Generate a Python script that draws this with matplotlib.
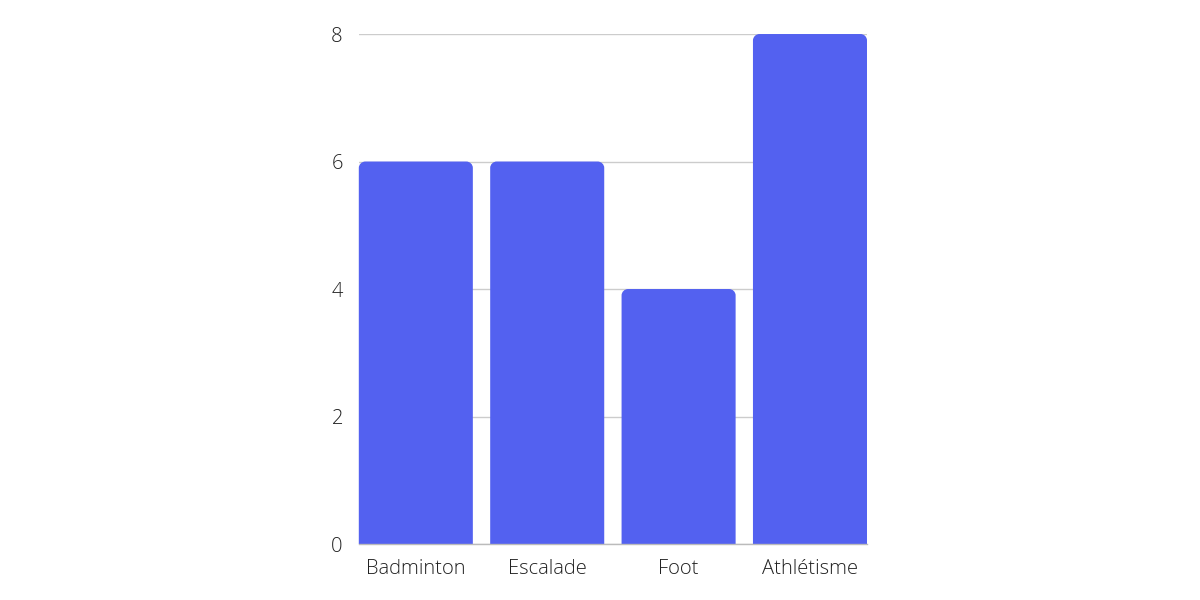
import numpy as np
import matplotlib.pyplot as plt
from matplotlib.path import Path
from matplotlib.patches import PathPatch

# data
sports = ["Badminton", "Escalade", "Foot", "Athlétisme"]
counts = [6, 6, 4, 8]
yticks = [0, 2, 4, 6, 8]

bar_color = "#5361F0"
bar_w = 0.868

plt.rcParams['font.family'] = ['Open Sans', 'DejaVu Sans']


def top_rounded_bar(x0, w, h, rx, ry):
    # bar path with only the two top corners rounded (bezier quarter ellipses)
    k = 0.5523
    x1 = x0 + w
    verts = [(x0, 0), (x1, 0), (x1, h - ry),
             (x1, h - ry + k * ry), (x1 - rx + k * rx, h), (x1 - rx, h),
             (x0 + rx, h),
             (x0 + rx - k * rx, h), (x0, h - ry + k * ry), (x0, h - ry),
             (x0, 0)]
    codes = [Path.MOVETO, Path.LINETO, Path.LINETO,
             Path.CURVE4, Path.CURVE4, Path.CURVE4,
             Path.LINETO,
             Path.CURVE4, Path.CURVE4, Path.CURVE4,
             Path.CLOSEPOLY]
    return Path(verts, codes)


fig = plt.figure(figsize=(12, 6), dpi=100)
ax = fig.add_axes([0.299, 0.0933, 0.4235, 0.85])

x = np.arange(len(sports))
ax.set_xlim(-bar_w / 2, len(sports) - 1 + bar_w / 2)
ax.set_ylim(0, 8)

rx = 0.05   # ~6-7 px
ry = 0.10
for xi, v in zip(x, counts):
    p = PathPatch(top_rounded_bar(xi - bar_w / 2, bar_w, v, rx, ry),
                  fc=bar_color, ec="none", zorder=3, clip_on=False)
    ax.add_patch(p)

ax.set_yticks(yticks)
ax.set_yticklabels([str(t) for t in yticks])
ax.set_xticks(x)
ax.set_xticklabels(sports)
ax.tick_params(axis='both', length=0, labelsize=14.5, labelcolor="#222222")
ax.tick_params(axis='y', pad=11.5)
ax.tick_params(axis='x', pad=11)
for lab in ax.get_xticklabels() + ax.get_yticklabels():
    lab.set_fontweight('light')

ax.grid(axis='y', color="#cccccc", linewidth=1, zorder=0)
ax.set_axisbelow(True)
for s in ["top", "right", "left"]:
    ax.spines[s].set_visible(False)
ax.spines["bottom"].set_color("#bbbbbb")
ax.spines["bottom"].set_linewidth(1)
ax.spines["bottom"].set_zorder(4)

fig.savefig("out.png", dpi=100)
